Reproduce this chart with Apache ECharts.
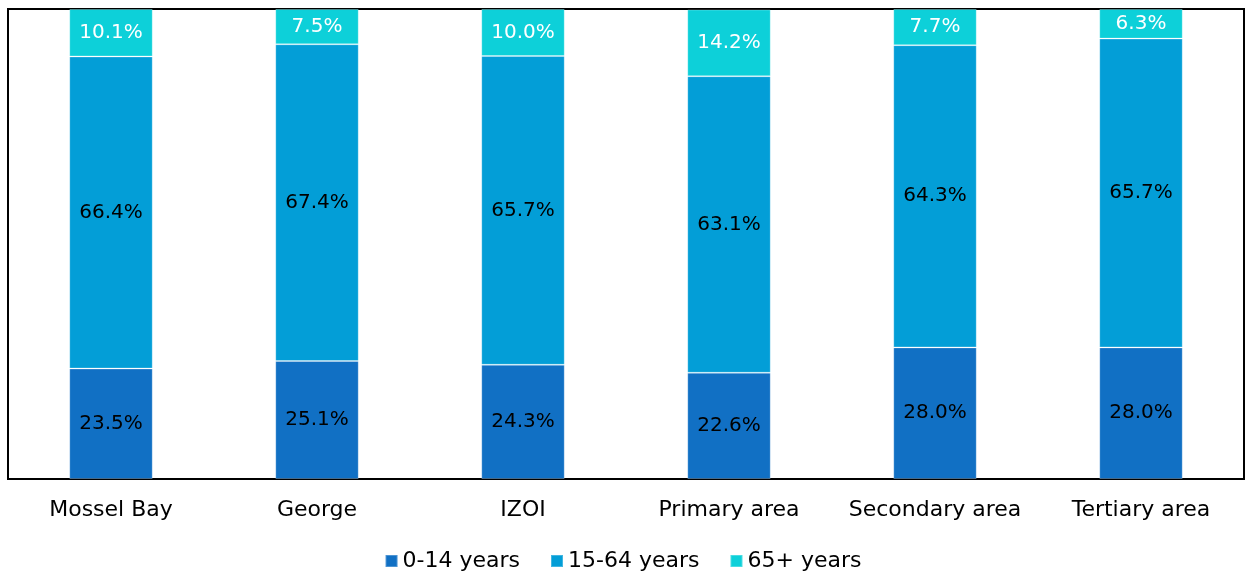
<!DOCTYPE html>
<html><head><meta charset="utf-8">
<script src="https://cdn.jsdelivr.net/npm/echarts@6/dist/echarts.min.js"></script>
<style>html,body{margin:0;padding:0;background:#fff}#c{width:1246px;height:577px}</style>
</head><body><div id="c"></div>
<script>
const categories = ['Mossel Bay','George','IZOI','Primary area','Secondary area','Tertiary area'];
const age0to14 = [23.5, 25.1, 24.3, 22.6, 28.0, 28.0];
const age15to64 = [66.4, 67.4, 65.7, 63.1, 64.3, 65.7];
const age65plus = [10.1, 7.5, 10.0, 14.2, 7.7, 6.3];
const seriesNames = ['0-14 years','15-64 years','65+ years'];
const colors = ['#1170C4','#039ED7','#0DD0D9'];
const FONT = 'DejaVu Sans';
const chart = echarts.init(document.getElementById('c'));
function mk(name, data, color, labelColor){
  return {name, type:'bar', stack:'a', data, barWidth:'40.5%',
    itemStyle:{color, borderColor:'rgba(255,255,255,0.25)', borderWidth:1},
    label:{show:true, position:'inside', formatter:p=>p.value.toFixed(1)+'%', color:labelColor, fontFamily:FONT, fontSize:20},
    emphasis:{disabled:true}};
}
chart.setOption({
  animation:false,
  color:colors,
  grid:{left:8, right:2, top:9, bottom:98, show:true, borderColor:'#000', borderWidth:2, containLabel:false},
  legend:{bottom:0, left:'center', itemWidth:12, itemHeight:12, itemGap:30, icon:'rect',
    textStyle:{fontFamily:FONT, fontSize:22, color:'#000'}, data:seriesNames},
  xAxis:{type:'category', data:categories, axisTick:{show:false}, axisLine:{show:false},
    axisLabel:{interval:0, hideOverlap:false, fontFamily:FONT, fontSize:22, color:'#000', margin:20}},
  yAxis:{type:'value', min:0, max:100, show:false, splitLine:{show:false}},
  series:[mk(seriesNames[0], age0to14, colors[0], '#000'), mk(seriesNames[1], age15to64, colors[1], '#000'), mk(seriesNames[2], age65plus, colors[2], '#fff')]
});
</script></body></html>
